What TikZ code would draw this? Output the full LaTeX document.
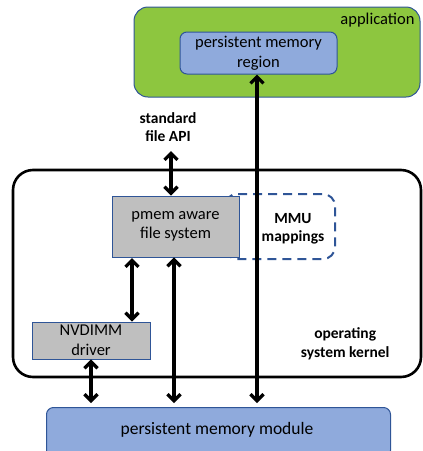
\documentclass[tikz,border=0pt]{standalone}
\usepackage{fontspec}
\setmainfont{Carlito}
\usetikzlibrary{arrows.meta}
\definecolor{appgreen}{HTML}{8DC63F}
\definecolor{pmblue}{HTML}{8FAADC}
\definecolor{pmedge}{HTML}{2F5597}
\definecolor{boxgray}{HTML}{BFBFBF}
\begin{document}
\begin{tikzpicture}[x=1pt,y=-1pt,
  conn/.style={line width=3.3pt,{Straight Barb[length=6.5pt,width=13pt]}-{Straight Barb[length=6.5pt,width=13pt]}},
  bluebox/.style={draw=pmedge,line width=1pt,fill=pmblue,rounded corners=7pt},
  graybox/.style={draw=pmedge,line width=0.9pt,fill=boxgray},
  lbl/.style={font=\fontsize{16.5}{19.5}\selectfont,align=center},
  blbl/.style={font=\bfseries\fontsize{15.5}{18.5}\selectfont,align=center}]
\useasboundingbox (0,0) rectangle (423,451);
% application
\draw[draw=pmedge,line width=1pt,fill=appgreen,rounded corners=14pt] (134,7) rectangle (420,97);
\node[lbl,anchor=east] (apptxt) at (418,20) {application};
\node[bluebox,lbl,minimum width=157pt,minimum height=42pt,inner sep=0pt] (region) at (258.5,53) {persistent memory\\region};
% kernel
\draw[line width=2.6pt,rounded corners=20pt] (13,170) rectangle (421,377);
\node[blbl,anchor=east] (ostxt) at (393,344) {operating\\system kernel};
% MMU
\draw[draw=pmedge,line width=2pt,dash pattern=on 9pt off 6pt,rounded corners=12pt] (225,194) rectangle (335,259);
\node[blbl] (mmu) at (293,229) {MMU\\mappings};
\node[graybox,lbl,minimum width=127pt,minimum height=61pt,inner sep=0pt] (pmfs) at (175.5,226.5) {pmem aware\\file system};
\node[graybox,lbl,minimum width=118pt,minimum height=37pt,inner sep=0pt] (nvd) at (91,340.5) {NVDIMM\\driver};
% module
\node[bluebox,anchor=north west,minimum width=344pt,minimum height=50pt,inner sep=0pt] (mod) at (46,407) {};
\node[lbl,font=\fontsize{17.5}{20}\selectfont] (modtxt) at (217,430) {persistent memory module};
\node[blbl] (api) at (168,127) {standard\\file API};
% arrows
\coordinate (a1) at (171,151);
\draw[conn] (a1) -- (pmfs.north -| a1);
\coordinate (a2) at (257,403);
\draw[conn] (region.south -| a2) -- (a2);
\coordinate (a3) at (174,403);
\draw[conn] (pmfs.south -| a3) -- (a3);
\coordinate (a4) at (132,258);
\draw[conn] (a4) -- (nvd.north -| a4);
\coordinate (a5) at (91,403);
\draw[conn] (nvd.south -| a5) -- (a5);
\end{tikzpicture}
\end{document}
